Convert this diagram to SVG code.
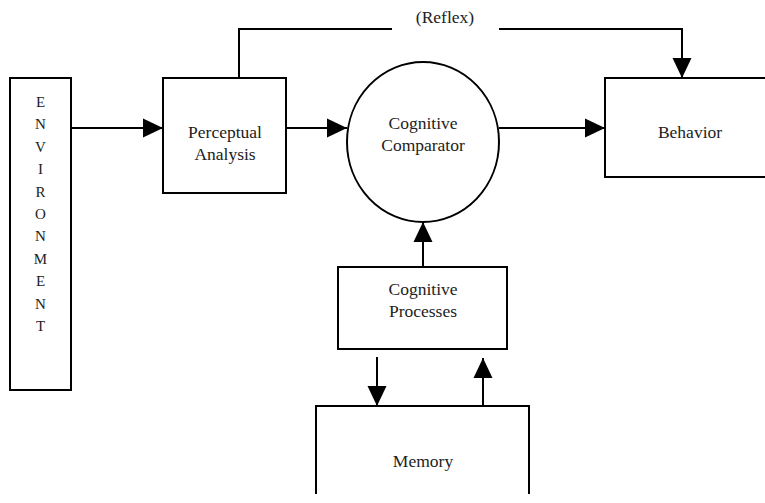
<svg xmlns="http://www.w3.org/2000/svg" width="765" height="503" viewBox="0 0 765 503">
<style>
.box{fill:#fff;stroke:#000;stroke-width:2}
.ln{fill:none;stroke:#000;stroke-width:2}
.t{font-size:17.5px;fill:#222;text-anchor:middle}
.env{font-size:15px}
</style>
<defs>
<marker id="ah" markerWidth="20" markerHeight="20" refX="20" refY="9.5" orient="auto" markerUnits="userSpaceOnUse" viewBox="0 0 20 19">
<path d="M0,0 L20,9.5 L0,19 Z" fill="#000"/>
</marker>
</defs>
<rect width="765" height="503" fill="#fff"/>
<g font-family="Liberation Serif, Times New Roman, serif">
<g id="environment">
<rect class="box" x="10" y="78" width="61" height="312"/>
<text class="t env" x="40.5" y="107">E</text>
<text class="t env" x="40.5" y="129">N</text>
<text class="t env" x="40.5" y="152">V</text>
<text class="t env" x="40.5" y="174">I</text>
<text class="t env" x="40.5" y="197">R</text>
<text class="t env" x="40.5" y="219">O</text>
<text class="t env" x="40.5" y="241">N</text>
<text class="t env" x="40.5" y="264">M</text>
<text class="t env" x="40.5" y="286">E</text>
<text class="t env" x="40.5" y="309">N</text>
<text class="t env" x="40.5" y="331">T</text>
</g>
<g id="perceptual">
<rect class="box" x="163" y="78" width="123" height="115"/>
<text class="t" x="225" y="138">Perceptual</text>
<text class="t" x="225" y="160">Analysis</text>
</g>
<g id="comparator">
<ellipse class="box" cx="423" cy="142" rx="76" ry="80"/>
<text class="t" x="423" y="129">Cognitive</text>
<text class="t" x="423" y="151">Comparator</text>
</g>
<g id="behavior">
<rect class="box" x="605" y="78" width="170" height="99"/>
<text class="t" x="690" y="138">Behavior</text>
</g>
<g id="processes">
<rect class="box" x="338" y="267" width="169" height="82"/>
<text class="t" x="423" y="295">Cognitive</text>
<text class="t" x="423" y="317">Processes</text>
</g>
<g id="memory">
<path class="box" d="M316,494 L316,406 L529,406 L529,494"/>
<text class="t" x="423" y="467">Memory</text>
</g>
<g id="connectors">
<line class="ln" x1="71" y1="128" x2="163" y2="128" marker-end="url(#ah)"/>
<line class="ln" x1="286" y1="128" x2="347" y2="128" marker-end="url(#ah)"/>
<line class="ln" x1="499" y1="128" x2="605" y2="128" marker-end="url(#ah)"/>
<polyline class="ln" points="239,78 239,29 392,29"/>
<polyline class="ln" points="499,29 682,29 682,78" marker-end="url(#ah)"/>
<text class="t" x="445" y="23">(Reflex)</text>
<line class="ln" x1="423" y1="267" x2="423" y2="222" marker-end="url(#ah)"/>
<line class="ln" x1="377" y1="357" x2="377" y2="406" marker-end="url(#ah)"/>
<line class="ln" x1="483" y1="406" x2="483" y2="358" marker-end="url(#ah)"/>
</g>
</g>
</svg>
